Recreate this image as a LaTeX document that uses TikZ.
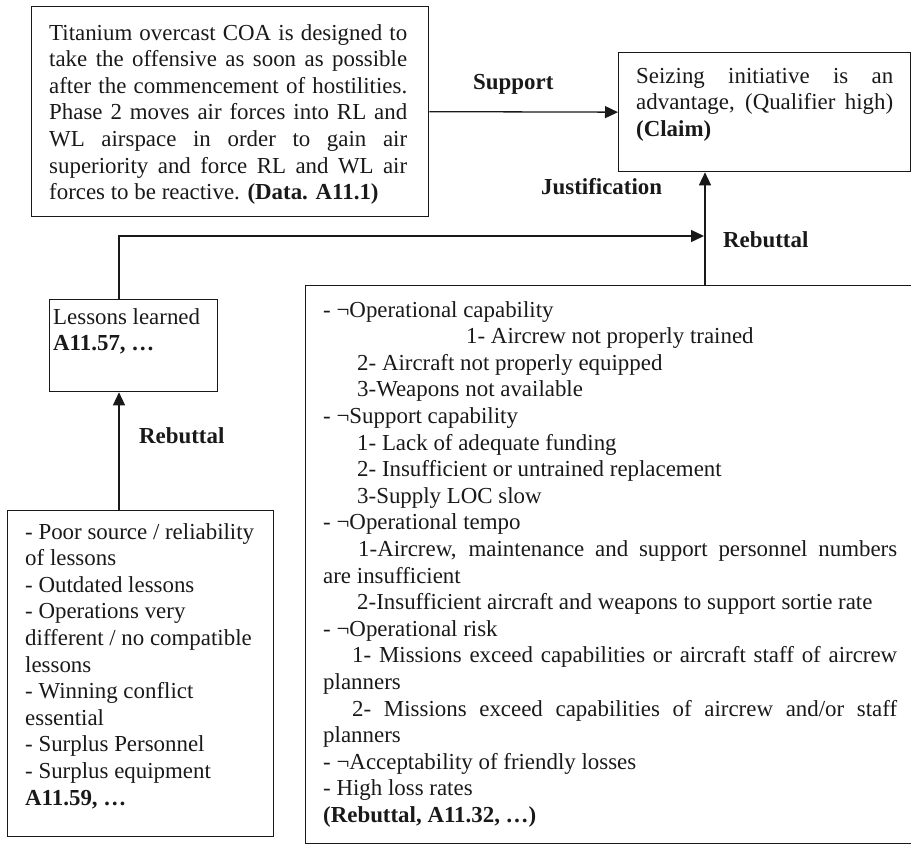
\documentclass[tikz,border=0pt]{standalone}
\usepackage{fontspec}
\setmainfont{Liberation Serif}
\usetikzlibrary{arrows.meta}
\begin{document}
\begin{tikzpicture}[x=1pt,y=-1pt,
  box/.style={draw=black!90, line width=1.3pt, rectangle, inner sep=0pt, anchor=north west},
  txt/.style={inner sep=0pt, anchor=base west, font=\fontsize{22.9}{26.6}\selectfont, text=black!90},
  lbl/.style={inner sep=0pt, anchor=base west, font=\fontsize{22.9}{26.6}\selectfont\bfseries, text=black!90},
  arr/.style={draw=black!90, line width=1.3pt, -{Triangle[length=13pt,width=12pt]}},
  conn/.style={draw=black!90, line width=1.3pt}]
\useasboundingbox (0,0) rectangle (911,844);

% boxes
\node[box, minimum width=397pt, minimum height=210pt] (data) at (31,6) {};
\node[box, minimum width=292pt, minimum height=119pt] (claim) at (618,52) {};
\node[box, minimum width=168pt, minimum height=92pt] (lessons) at (49,299) {};
\node[box, minimum width=266pt, minimum height=326pt] (poor) at (7,510) {};
\node[box, minimum width=640pt, minimum height=558pt] (reb) at (305,285) {};

% box texts
\node[txt] (datatext) at (49,40) {\parbox[t]{358pt}{%
Titanium overcast COA is designed to\linebreak
take the offensive as soon as possible\linebreak
after the commencement of hostilities.\linebreak
Phase 2 moves air forces into RL and\linebreak
WL airspace in order to gain air\linebreak
superiority and force RL and WL air\linebreak
forces to be reactive. \textbf{(Data. A11.1)}}};

\node[txt] (claimtext) at (636,83) {\parbox[t]{257pt}{%
Seizing initiative is an\linebreak
advantage, (Qualifier high)\linebreak
\textbf{(Claim)}}};

\node[txt] (lessonstext) at (53,324) {\parbox[t]{160pt}{%
Lessons learned\\
\textbf{A11.57, …}}};

\node[txt] (poortext) at (25,539) {\parbox[t]{245pt}{%
- Poor source / reliability\\
of lessons\\
- Outdated lessons\\
- Operations very\\
different / no compatible\\
lessons\\
- Winning conflict\\
essential\\
- Surplus Personnel\\
- Surplus equipment\\
\textbf{A11.59, …}}};

\node[txt] (rebtext) at (323,317) {\parbox[t]{574pt}{%
- ¬Operational capability\\
\hspace*{143pt}1- Aircrew not properly trained\\
\hspace*{34pt}2- Aircraft not properly equipped\\
\hspace*{34pt}3-Weapons not available\\
- ¬Support capability\\
\hspace*{34pt}1- Lack of adequate funding\\
\hspace*{34pt}2- Insufficient or untrained replacement\\
\hspace*{34pt}3-Supply LOC slow\\
- ¬Operational tempo\\
\hspace*{35pt}1-Aircrew, maintenance and support personnel numbers\linebreak
are insufficient\\
\hspace*{34pt}2-Insufficient aircraft and weapons to support sortie rate\\
- ¬Operational risk\\
\hspace*{29pt}1- Missions exceed capabilities or aircraft staff of aircrew\linebreak
planners\\
\hspace*{29pt}2- Missions exceed capabilities of aircrew and/or staff\linebreak
planners\\
- ¬Acceptability of friendly losses\\
- High loss rates\\
\textbf{(Rebuttal, A11.32, …)}}};

% connector labels
\node[lbl] (support) at (473,89) {Support};
\node[lbl] (justif) at (541,194) {Justification};
\node[lbl] (rebR) at (723,247) {Rebuttal};
\node[lbl] (rebL) at (139,443) {Rebuttal};

% connectors
\coordinate (jx) at (705,285);
\coordinate (rj) at (704,236);
\coordinate (lx) at (119,0);
\draw[arr] (data.east) -- (claim.west);
\draw[arr] (jx) -- (jx |- claim.south);
\draw[arr] (lx |- lessons.north) |- (rj);
\draw[arr] (lx |- poor.north) -- (lx |- lessons.south);
\end{tikzpicture}
\end{document}
